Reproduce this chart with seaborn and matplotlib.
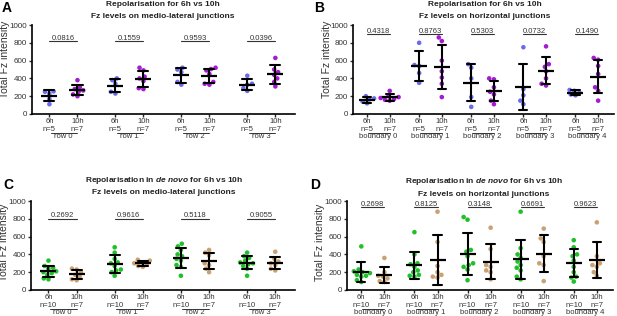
import pandas as pd
import seaborn as sns
import matplotlib.pyplot as plt

sns.set_style("ticks")
plt.rcParams["font.family"] = ["Liberation Sans", "DejaVu Sans"]
plt.rcParams["mathtext.fontset"] = "custom"
plt.rcParams["mathtext.it"] = "Liberation Sans:italic:bold"
plt.rcParams["mathtext.rm"] = "Liberation Sans:bold"

# ---- panel A : medio-lateral junctions, repolarisation
a_groups = ["row 0", "row 1", "row 2", "row 3"]
a_6h = [[255, 250, 230, 170, 110],
        [400, 380, 340, 250, 230],
        [520, 500, 470, 360, 330],
        [430, 340, 330, 290, 260]]
a_10h = [[380, 300, 280, 265, 250, 220, 200],
         [520, 490, 420, 400, 370, 290, 280],
         [520, 505, 490, 450, 360, 340, 330],
         [630, 500, 470, 440, 400, 360, 310]]
a_p = ["0.0816", "0.1559", "0.9593", "0.0396"]

# ---- panel B : horizontal junctions, repolarisation
b_groups = ["boundary 0", "boundary 1", "boundary 2", "boundary 3", "boundary 4"]
b_6h = [[200, 175, 165, 140, 120],
        [800, 550, 540, 460, 350],
        [560, 520, 400, 190, 80],
        [750, 280, 210, 150, 110],
        [270, 260, 240, 220, 210]]
b_10h = [[260, 200, 190, 180, 170, 160, 150],
         [860, 820, 600, 480, 410, 340, 190],
         [400, 390, 300, 250, 220, 150, 110],
         [760, 560, 530, 480, 400, 340, 320],
         [630, 610, 540, 450, 300, 260, 150]]
b_p = ["0.4318", "0.8763", "0.5303", "0.0732", "0.1490"]

# ---- panel C : medio-lateral junctions, de novo
c_groups = ["row 0", "row 1", "row 2", "row 3"]
c_6h = [[330, 270, 250, 240, 210, 200, 190, 170, 130, 120],
        [480, 420, 350, 310, 300, 270, 230, 220, 200, 160],
        [520, 490, 450, 400, 380, 350, 330, 280, 260, 160],
        [420, 380, 360, 330, 310, 300, 290, 270, 240, 160]]
c_10h = [[240, 230, 200, 170, 150, 120, 110],
         [340, 330, 310, 300, 290, 270, 260],
         [450, 420, 390, 300, 280, 240, 200],
         [430, 350, 320, 300, 280, 240, 220]]
c_p = ["0.2692", "0.9616", "0.5118", "0.9055"]

# ---- panel D : horizontal junctions, de novo
d_groups = ["boundary 0", "boundary 1", "boundary 2", "boundary 3", "boundary 4"]
d_6h = [[490, 230, 210, 200, 190, 170, 160, 150, 110, 90],
        [650, 400, 300, 290, 260, 220, 200, 170, 160, 150],
        [820, 790, 450, 430, 380, 300, 280, 260, 230, 110],
        [880, 470, 400, 360, 320, 280, 250, 220, 150, 120],
        [560, 480, 400, 380, 330, 260, 200, 150, 140, 95]]
d_10h = [[360, 200, 160, 150, 130, 100, 90],
         [880, 540, 270, 200, 170, 150, 140],
         [700, 460, 280, 260, 220, 200, 120],
         [690, 580, 540, 380, 300, 280, 100],
         [760, 380, 300, 280, 260, 200, 160]]
d_p = ["0.2698", "0.8125", "0.3148", "0.6691", "0.9623"]

repol_colors = {"6h": "#6b6bec", "10h": "#a31ccf"}
denovo_colors = {"6h": "#20c02a", "10h": "#c9a172"}

W, H = 617, 316
fig = plt.figure(figsize=(W / 100, H / 100), dpi=100)
TXT = "#333333"


def px_axes(left, right, top, bottom):
    return fig.add_axes([left / W, 1 - bottom / H, (right - left) / W, (bottom - top) / H])


def draw_panel(ax, groups, early, late, pvals, colors, step, p_y, line_y, label_y):
    rows = []
    for g in range(len(groups)):
        for v in early[g]:
            rows.append((g * step, "6h", v))
        for v in late[g]:
            rows.append((g * step + 1, "10h", v))
    df = pd.DataFrame(rows, columns=["pos", "time", "value"])

    sns.swarmplot(data=df, x="pos", y="value", hue="time", palette=colors,
                  native_scale=True, size=3.3, legend=False, ax=ax, zorder=1)
    sns.pointplot(data=df, x="pos", y="value", native_scale=True, errorbar="sd",
                  capsize=0.36, linestyle="none", marker="_", markersize=11,
                  markeredgewidth=1.6, color="black",
                  err_kws={"linewidth": 1.5}, ax=ax, zorder=3)

    pos, labels = [], []
    for g in range(len(groups)):
        pos += [g * step, g * step + 1]
        labels += [f"6h\nn={len(early[g])}", f"10h\nn={len(late[g])}"]
    ax.set_xticks(pos)
    ax.set_xticklabels(labels, fontsize=5.5, color=TXT, linespacing=1.15)
    ax.set_xlim(-0.62, (len(groups) - 1) * step + 1.7)
    ax.set_ylim(0, 1000)
    ax.set_yticks(range(0, 1001, 200))
    ax.tick_params(axis="y", labelsize=5.8, colors=TXT, length=2.5, width=1, pad=1)
    ax.tick_params(axis="x", length=2, width=1, pad=1)
    ax.set_xlabel("")
    ax.set_ylabel("Total Fz intensity", fontsize=7.5, color=TXT)
    ax.yaxis.set_label_coords(-0.082, label_y)
    for s in ["top", "right"]:
        ax.spines[s].set_visible(False)
    for s in ["left", "bottom"]:
        ax.spines[s].set_linewidth(1.2)
        ax.spines[s].set_color("black")

    xt = ax.get_xaxis_transform()
    for g, name in enumerate(groups):
        x0 = g * step
        ax.text(x0 + 0.5, p_y, pvals[g], ha="center", va="center",
                fontsize=5.5, color=TXT)
        ax.plot([x0, x0 + 1], [line_y, line_y], color=TXT, lw=0.8)
        # group bracket below tick labels
        ax.plot([x0 + 0.05, x0 + 1.0], [-0.215, -0.215], color=TXT, lw=0.7,
                transform=xt, clip_on=False)
        ax.text(x0 + 0.5, -0.25, name, ha="center", va="center",
                fontsize=5.5, color=TXT, transform=xt)


ax_a = px_axes(32, 295, 25, 114)
draw_panel(ax_a, a_groups, a_6h, a_10h, a_p, repol_colors, 2.35, 852, 815, 0.62)
ax_b = px_axes(353, 614, 25, 114)
draw_panel(ax_b, b_groups, b_6h, b_10h, b_p, repol_colors, 2.3, 925, 895, 0.62)
ax_c = px_axes(31, 295, 201, 290)
draw_panel(ax_c, c_groups, c_6h, c_10h, c_p, denovo_colors, 2.35, 832, 802, 0.54)
ax_d = px_axes(347, 613, 201, 290)
draw_panel(ax_d, d_groups, d_6h, d_10h, d_p, denovo_colors, 2.3, 962, 928, 0.54)

# titles and panel letters
t1 = "Repolarisation for 6h vs 10h"
t2 = r"Repolarisation in $\it{de\ novo}$ for 6h vs 10h"
titles = [(163, 5, t1), (163, 16, "Fz levels on medio-lateral junctions"),
          (485, 5, t1), (485, 16, "Fz levels on horizontal junctions"),
          (164, 180, t2), (164, 193, "Fz levels on medio-lateral junctions"),
          (484, 181, t2), (484, 194, "Fz levels on horizontal junctions")]
for x, y, s in titles:
    fig.text(x / W, 1 - y / H, s, ha="center", va="center", fontsize=6,
             fontweight="bold", color="#222222")

for x, y, s in [(7, 8, "A"), (319, 8, "B"), (8, 185, "C"), (315, 185, "D")]:
    fig.text(x / W, 1 - y / H, s, ha="center", va="center", fontsize=10,
             fontweight="bold", color="black")

fig.savefig("out.png", dpi=100)
